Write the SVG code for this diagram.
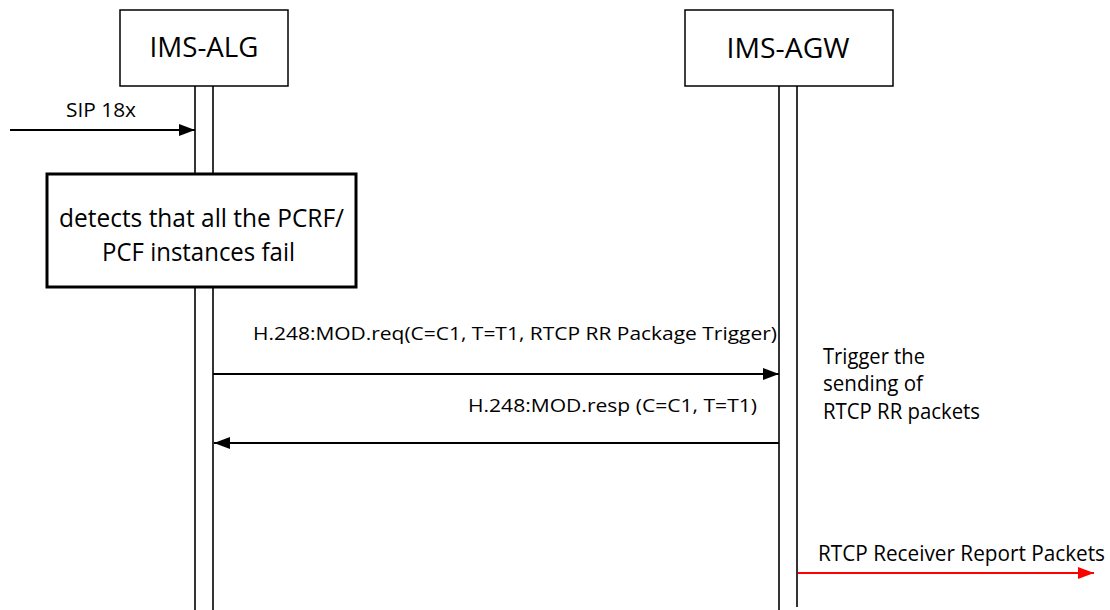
<svg xmlns="http://www.w3.org/2000/svg" width="1110" height="610" viewBox="0 0 1110 610">
<style>
text{font-family:"Open Sans","Liberation Sans",sans-serif;fill:#000}
.box{fill:#fff;stroke:#000;stroke-width:1.5}
.life{stroke:#000;stroke-width:1.6;fill:none}
.msg{stroke:#000;stroke-width:2;fill:none}
.red{stroke:#f00;stroke-width:2;fill:none}
</style>
<defs>
<marker id="ah" viewBox="0 0 16 12" refX="16" refY="6" markerWidth="16" markerHeight="12" markerUnits="userSpaceOnUse" orient="auto"><path d="M0,0 L16,6 L0,12 Z" fill="#000"/></marker>
<marker id="ahr" viewBox="0 0 16 12" refX="16" refY="6" markerWidth="16" markerHeight="12" markerUnits="userSpaceOnUse" orient="auto"><path d="M0,0 L16,6 L0,12 Z" fill="#f00"/></marker>
</defs>
<g id="lifelines">
<line class="life" x1="195" y1="86" x2="195" y2="610"/>
<line class="life" x1="213" y1="86" x2="213" y2="610"/>
<line class="life" x1="779" y1="86" x2="779" y2="610"/>
<line class="life" x1="797" y1="86" x2="797" y2="607"/>
</g>
<g id="ims-alg">
<rect class="box" x="120" y="10" width="168" height="76"/>
<text x="204" y="57" font-size="28" text-anchor="middle" textLength="109" lengthAdjust="spacingAndGlyphs">IMS-ALG</text>
</g>
<g id="ims-agw">
<rect class="box" x="685" y="10" width="208" height="76"/>
<text x="788" y="58" font-size="28" text-anchor="middle" textLength="123" lengthAdjust="spacingAndGlyphs">IMS-AGW</text>
</g>
<g id="detect">
<rect x="47" y="174" width="309" height="113" fill="#fff" stroke="#000" stroke-width="3"/>
<text x="59" y="227" font-size="26" textLength="285" lengthAdjust="spacingAndGlyphs">detects that all the PCRF/</text>
<text x="102" y="261" font-size="26" textLength="193" lengthAdjust="spacingAndGlyphs">PCF instances fail</text>
</g>
<g id="trigger-note">
<text x="823" y="364" font-size="21" textLength="102" lengthAdjust="spacingAndGlyphs">Trigger the</text>
<text x="823" y="391" font-size="21" textLength="100" lengthAdjust="spacingAndGlyphs">sending of</text>
<text x="823" y="419" font-size="21" textLength="157" lengthAdjust="spacingAndGlyphs">RTCP RR packets</text>
</g>
<g id="connectors">
<line class="msg" x1="10" y1="130" x2="195" y2="130" marker-end="url(#ah)"/>
<text x="66" y="117" font-size="19.5" textLength="70" lengthAdjust="spacingAndGlyphs">SIP 18x</text>
<line class="msg" x1="213" y1="374" x2="779" y2="374" marker-end="url(#ah)"/>
<text x="253" y="340" font-size="18.5" textLength="524" lengthAdjust="spacingAndGlyphs">H.248:MOD.req(C=C1, T=T1, RTCP RR Package Trigger)</text>
<line class="msg" x1="779" y1="443" x2="214" y2="443" marker-end="url(#ah)"/>
<text x="468" y="412" font-size="18.5" textLength="289" lengthAdjust="spacingAndGlyphs">H.248:MOD.resp (C=C1, T=T1)</text>
<line class="red" x1="798" y1="573" x2="1094" y2="573" marker-end="url(#ahr)"/>
<text x="818" y="561" font-size="21" textLength="287" lengthAdjust="spacingAndGlyphs">RTCP Receiver Report Packets</text>
</g>
</svg>
